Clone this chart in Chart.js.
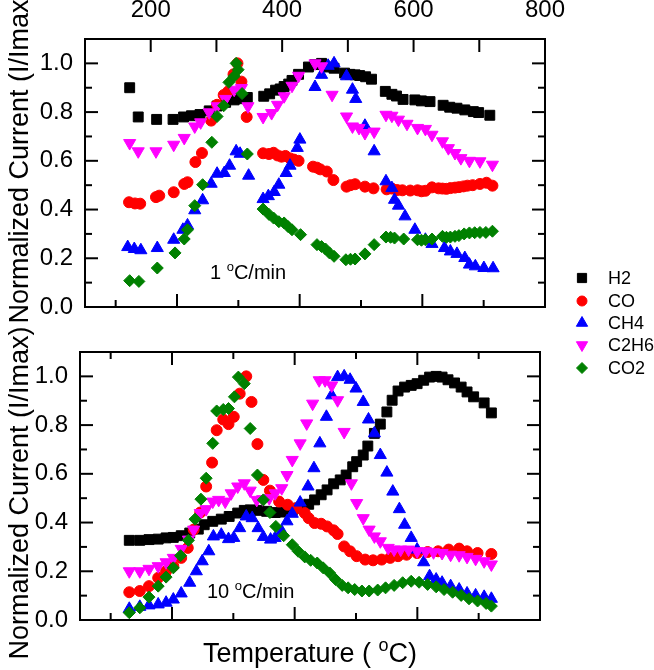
<!DOCTYPE html>
<html>
<head>
<meta charset="utf-8">
<script src="https://cdn.jsdelivr.net/npm/chart.js@4.4.1/dist/chart.umd.min.js"></script>
<style>
  html, body { margin: 0; padding: 0; background: #fff; }
  #wrap { position: relative; width: 654px; height: 670px; }
  #wrap canvas { position: absolute; left: 0; top: 0; }
</style>
</head>
<body>
<div id="wrap">
  <canvas id="chartSlow" width="654" height="670"></canvas>
  <canvas id="chartFast" width="654" height="670"></canvas>
</div>
<script>
// series names (legend order)
const seriesNames = ['H2', 'CO', 'CH4', 'C2H6', 'CO2'];

// tick labels
const tempLabels = [200, 400, 600, 800];
const currentLabels = [0, 0.2, 0.4, 0.6, 0.8, 1.0];

// 1 oC/min panel: [temperature, normalized current]
const h2Slow = [[168,0.90],[181,0.78],[209,0.77],[234,0.77],[250,0.78],[262,0.785],[275,0.79],[289,0.805],[301,0.825],[314,0.84],[327,0.85],[336,0.855],[347,0.86],[372,0.865],[381,0.875],[390,0.89],[397,0.895],[403,0.905],[410,0.915],[415,0.93],[425,0.955],[440,0.985],[450,0.995],[460,1.0],[470,0.985],[479,0.98],[495,0.96],[503,0.955],[511,0.953],[518,0.95],[527,0.945],[536,0.935],[557,0.885],[567,0.873],[574,0.866],[584,0.852],[602,0.85],[612,0.846],[625,0.843],[645,0.828],[655,0.82],[666,0.816],[678,0.809],[691,0.802],[699,0.798],[716,0.787]];
const coSlow = [[167,0.43],[176,0.425],[184,0.424],[208,0.451],[213,0.457],[235,0.471],[251,0.505],[256,0.512],[268,0.595],[278,0.632],[292,0.765],[301,0.83],[311,0.87],[318,0.885],[326,0.955],[332,1.0],[338,0.925],[346,0.78],[371,0.631],[380,0.628],[387,0.633],[393,0.622],[399,0.617],[405,0.62],[412,0.61],[418,0.605],[425,0.6],[447,0.576],[453,0.572],[458,0.565],[468,0.556],[478,0.521],[498,0.494],[504,0.5],[511,0.504],[526,0.494],[539,0.487],[559,0.483],[567,0.486],[575,0.48],[583,0.479],[595,0.478],[606,0.479],[612,0.475],[618,0.477],[628,0.491],[638,0.487],[644,0.486],[650,0.485],[656,0.488],[663,0.49],[669,0.492],[676,0.495],[682,0.498],[690,0.5],[701,0.505],[711,0.51],[720,0.498]];
const ch4Slow = [[165,0.246],[175,0.238],[185,0.233],[210,0.242],[235,0.276],[249,0.317],[256,0.335],[267,0.397],[279,0.438],[292,0.506],[301,0.547],[312,0.55],[320,0.58],[330,0.639],[336,0.629],[349,0.539],[371,0.443],[379,0.455],[388,0.472],[395,0.502],[406,0.55],[412,0.58],[423,0.653],[427,0.687],[450,0.903],[460,0.953],[470,0.99],[479,1.0],[498,0.947],[507,0.892],[512,0.854],[526,0.744],[540,0.639],[558,0.516],[567,0.488],[571,0.44],[577,0.416],[587,0.372],[602,0.317],[618,0.276],[628,0.259],[647,0.242],[656,0.228],[666,0.218],[678,0.201],[685,0.174],[694,0.167],[707,0.16],[721,0.159]];
const c2h6Slow = [[168,0.673],[181,0.639],[208,0.639],[235,0.666],[251,0.694],[267,0.741],[276,0.758],[289,0.799],[301,0.824],[314,0.854],[327,0.892],[338,0.899],[348,0.824],[371,0.78],[384,0.796],[393,0.83],[403,0.865],[415,0.908],[425,0.949],[450,1.0],[460,0.988],[476,0.871],[498,0.782],[507,0.741],[517,0.735],[526,0.714],[540,0.72],[558,0.789],[567,0.785],[577,0.769],[590,0.752],[606,0.735],[618,0.731],[628,0.707],[644,0.68],[653,0.652],[663,0.632],[672,0.611],[685,0.6],[701,0.598],[720,0.584]];
const co2Slow = [[168,0.108],[182,0.105],[210,0.16],[237,0.222],[251,0.279],[256,0.317],[267,0.416],[279,0.502],[293,0.676],[301,0.782],[311,0.826],[319,0.922],[327,0.947],[330,1.0],[333,0.974],[339,0.876],[347,0.628],[371,0.402],[380,0.38],[387,0.365],[395,0.35],[403,0.345],[409,0.33],[415,0.317],[428,0.297],[453,0.256],[460,0.248],[466,0.238],[472,0.222],[479,0.208],[497,0.194],[504,0.196],[511,0.197],[526,0.218],[540,0.256],[558,0.287],[565,0.286],[571,0.283],[585,0.279],[606,0.276],[612,0.274],[618,0.276],[628,0.279],[644,0.29],[650,0.286],[656,0.287],[663,0.29],[669,0.293],[677,0.3],[685,0.304],[693,0.305],[701,0.306],[710,0.306],[720,0.311]];

// 10 oC/min panel
const h2Fast = [[175,0.327],[191,0.327],[205,0.33],[219,0.332],[231,0.337],[242,0.339],[254,0.346],[267,0.357],[280,0.373],[289,0.391],[302,0.405],[315,0.414],[327,0.425],[340,0.439],[350,0.45],[359,0.452],[372,0.45],[384,0.446],[397,0.441],[410,0.443],[423,0.452],[432,0.459],[439,0.466],[448,0.475],[457,0.493],[467,0.514],[476,0.534],[486,0.559],[496,0.575],[505,0.595],[515,0.629],[521,0.65],[531,0.677],[538,0.714],[548,0.766],[557,0.804],[567,0.854],[575,0.902],[584,0.94],[594,0.956],[604,0.963],[613,0.97],[623,0.984],[632,0.997],[642,1.0],[651,0.997],[660,0.986],[670,0.973],[680,0.956],[689,0.936],[699,0.916],[715,0.891],[726,0.85]];
const coFast = [[175,0.114],[191,0.119],[205,0.139],[219,0.173],[231,0.2],[242,0.221],[254,0.255],[264,0.296],[273,0.371],[283,0.441],[292,0.548],[301,0.646],[308,0.779],[318,0.823],[326,0.804],[334,0.834],[343,0.929],[353,1.0],[361,0.895],[370,0.722],[379,0.575],[389,0.531],[403,0.486],[416,0.473],[429,0.459],[442,0.439],[448,0.418],[457,0.398],[467,0.395],[476,0.384],[486,0.368],[492,0.353],[502,0.302],[511,0.282],[521,0.262],[534,0.248],[546,0.245],[559,0.248],[572,0.255],[584,0.262],[597,0.268],[613,0.275],[629,0.279],[645,0.282],[661,0.289],[677,0.293],[689,0.282],[705,0.275],[726,0.271]];
const ch4Fast = [[175,0.046],[191,0.054],[205,0.06],[219,0.064],[231,0.071],[242,0.084],[254,0.109],[267,0.153],[277,0.2],[286,0.241],[296,0.282],[303,0.343],[315,0.35],[326,0.332],[334,0.337],[343,0.377],[353,0.425],[362,0.418],[371,0.377],[379,0.341],[390,0.33],[397,0.337],[407,0.364],[415,0.405],[423,0.436],[435,0.482],[447,0.548],[456,0.623],[465,0.725],[475,0.834],[483,0.922],[492,0.997],[502,1.0],[511,0.986],[520,0.95],[531,0.895],[539,0.823],[548,0.766],[557,0.677],[567,0.605],[576,0.527],[586,0.455],[594,0.391],[604,0.337],[613,0.289],[623,0.237],[632,0.18],[642,0.166],[651,0.153],[664,0.139],[677,0.125],[689,0.109],[702,0.101],[715,0.095],[726,0.087]];
const c2h6Fast = [[175,0.2],[191,0.2],[205,0.21],[219,0.221],[231,0.237],[242,0.255],[254,0.292],[265,0.33],[273,0.371],[283,0.439],[292,0.455],[302,0.486],[311,0.493],[321,0.486],[330,0.52],[340,0.548],[350,0.561],[359,0.531],[369,0.493],[378,0.496],[388,0.5],[397,0.52],[407,0.541],[415,0.595],[423,0.657],[435,0.725],[445,0.807],[454,0.888],[464,0.984],[473,0.984],[483,0.963],[492,0.902],[502,0.772],[513,0.561],[521,0.48],[531,0.418],[540,0.371],[548,0.343],[557,0.323],[569,0.296],[578,0.289],[588,0.289],[600,0.289],[613,0.282],[626,0.282],[638,0.278],[651,0.275],[664,0.268],[677,0.266],[689,0.259],[702,0.251],[715,0.241],[726,0.228]];
const co2Fast = [[175,0.03],[191,0.05],[205,0.094],[219,0.139],[231,0.176],[242,0.214],[253,0.264],[265,0.327],[275,0.414],[284,0.496],[292,0.582],[302,0.725],[308,0.858],[318,0.864],[326,0.868],[335,0.916],[341,0.997],[350,0.97],[359,0.786],[370,0.595],[379,0.493],[389,0.441],[398,0.384],[410,0.346],[423,0.309],[432,0.282],[442,0.259],[451,0.245],[461,0.234],[470,0.214],[480,0.193],[489,0.166],[499,0.142],[508,0.132],[518,0.125],[529,0.119],[540,0.119],[553,0.123],[565,0.132],[578,0.142],[591,0.153],[604,0.159],[616,0.155],[629,0.146],[642,0.136],[654,0.125],[667,0.114],[680,0.101],[692,0.087],[705,0.078],[718,0.068],[726,0.057]];

// marker look for each series
const markerStyle = [
  { color: '#000000', shape: 'rect',     rot: 0,   r: 7 },
  { color: '#ff0000', shape: 'circle',   rot: 0,   r: 5.5 },
  { color: '#0000ff', shape: 'triangle', rot: 0,   r: 7 },
  { color: '#ff00ff', shape: 'triangle', rot: 180, r: 7 },
  { color: '#008000', shape: 'rectRot',  rot: 0,   r: 6 }
];

const FONT = '"Liberation Sans", Arial, Helvetica, sans-serif';
Chart.defaults.font.family = FONT;
Chart.defaults.color = '#000';

function makeDatasets(list) {
  return list.map((pts, i) => ({
    label: seriesNames[i],
    data: pts.map(p => ({ x: p[0], y: p[1] })),
    pointStyle: markerStyle[i].shape,
    pointRotation: markerStyle[i].rot,
    pointRadius: markerStyle[i].r,
    backgroundColor: markerStyle[i].color,
    borderColor: markerStyle[i].color,
    borderWidth: 1,
    showLine: false,
    order: 5 - i,   // later series drawn on top
    xAxisID: 'x',
    yAxisID: 'y'
  }));
}

// inward tick marks, like the Origin frame
const yMinor = [0.1, 0.3, 0.5, 0.7, 0.9];
const yMajor = [0.2, 0.4, 0.6, 0.8, 1.0];
function tickPlugin(marks) {
  return {
    id: 'innerTicks',
    afterDatasetsDraw(chart) {
      const ctx = chart.ctx, a = chart.chartArea;
      ctx.save();
      ctx.strokeStyle = '#000';
      ctx.lineWidth = 2;
      marks.forEach(m => {
        const s = chart.scales[m.scale];
        [[m.major, 13], [m.minor, 7]].forEach(([vals, len]) => {
          vals.forEach(v => {
            ctx.beginPath();
            if (s.isHorizontal()) {
              const px = s.getPixelForValue(v);
              if (s.position === 'top') { ctx.moveTo(px, a.top); ctx.lineTo(px, a.top + len); }
              else { ctx.moveTo(px, a.bottom); ctx.lineTo(px, a.bottom - len); }
            } else {
              const py = s.getPixelForValue(v);
              if (s.position === 'left') { ctx.moveTo(a.left, py); ctx.lineTo(a.left + len, py); }
              else { ctx.moveTo(a.right, py); ctx.lineTo(a.right - len, py); }
            }
            ctx.stroke();
          });
        });
      });
      ctx.restore();
    }
  };
}

// text with a raised small "o" for the degree sign
function drawSup(ctx, parts, x, y, size, align) {
  const small = Math.round(size * 0.65);
  let w = 0;
  parts.forEach(p => {
    ctx.font = (p.sup ? small : size) + 'px ' + FONT;
    w += ctx.measureText(p.t).width;
  });
  let cx = align === 'center' ? x - w / 2 : x;
  ctx.textAlign = 'left';
  ctx.textBaseline = 'alphabetic';
  parts.forEach(p => {
    ctx.font = (p.sup ? small : size) + 'px ' + FONT;
    ctx.fillText(p.t, cx, p.sup ? y - size * 0.42 : y);
    cx += ctx.measureText(p.t).width;
  });
}

function textPlugin(cfg) {
  return {
    id: 'panelText',
    afterDraw(chart) {
      const ctx = chart.ctx;
      ctx.save();
      ctx.fillStyle = '#000';
      // y title
      ctx.save();
      ctx.translate(cfg.yTitleX, cfg.yTitleY);
      ctx.rotate(-Math.PI / 2);
      ctx.font = '27px ' + FONT;
      ctx.textAlign = 'center';
      ctx.textBaseline = 'middle';
      ctx.fillText('Normalized Current (I/Imax)', 0, 0);
      ctx.restore();
      // rate note
      drawSup(ctx, [{ t: cfg.rate + ' ' }, { t: 'o', sup: true }, { t: 'C/min' }], cfg.rateX, cfg.rateY, 20, 'left');
      if (cfg.xTitle) {
        drawSup(ctx, [{ t: 'Temperature ( ' }, { t: 'o', sup: true }, { t: 'C)' }], 310, 662, 27, 'center');
      }
      if (cfg.legend) {
        const rows = [278, 301, 323, 345, 368];
        chart.data.datasets.forEach((ds, i) => {
          ctx.fillStyle = ds.backgroundColor;
          ctx.strokeStyle = ds.borderColor;
          ctx.lineWidth = 1;
          if (Chart.helpers && Chart.helpers.drawPoint) {
            Chart.helpers.drawPoint(ctx, { pointStyle: ds.pointStyle, rotation: ds.pointRotation, radius: ds.pointRadius - 0.5, borderWidth: 1 }, 582, rows[i]);
          }
          ctx.fillStyle = '#000';
          ctx.font = '18px ' + FONT;
          ctx.textAlign = 'left';
          ctx.textBaseline = 'middle';
          ctx.fillText(ds.label, 608, rows[i] + 1);
        });
      }
      ctx.restore();
    }
  };
}

const frameBorder = { color: '#000', width: 2 };
const noGrid = { drawOnChartArea: false, drawTicks: false };

function yAxes(leftWidth) {
  return {
    y: {
      position: 'left', min: 0, max: 1.1,
      afterBuildTicks: s => { s.ticks = currentLabels.map(v => ({ value: v })); },
      ticks: { padding: 12, font: { size: 24 }, color: '#000', callback: v => Number(v).toFixed(1) },
      grid: noGrid, border: frameBorder,
      afterFit: s => { s.width = leftWidth; }
    },
    y2: {
      position: 'right', min: 0, max: 1.1,
      ticks: { display: false },
      grid: noGrid, border: frameBorder,
      afterFit: s => { s.width = 0; }
    }
  };
}

const tickSetB = { major: [200, 400, 600], minor: [100, 300, 500, 700] };

// 1 oC/min panel
new Chart(document.getElementById('chartSlow'), {
  type: 'scatter',
  data: { datasets: makeDatasets([h2Slow, coSlow, ch4Slow, c2h6Slow, co2Slow]) },
  options: {
    responsive: false, animation: false, devicePixelRatio: 1,
    layout: { padding: { left: 0, top: 0, right: 109, bottom: 363 } },
    plugins: { legend: { display: false }, tooltip: { enabled: false } },
    scales: Object.assign({
      x: {
        type: 'linear', position: 'top', min: 100, max: 800,
        afterBuildTicks: s => { s.ticks = tempLabels.map(v => ({ value: v })); },
        ticks: { autoSkip: false, maxRotation: 0, padding: 14, font: { size: 24 }, color: '#000' },
        grid: noGrid, border: frameBorder,
        afterFit: s => { s.height = 39; }
      },
      x2: {
        type: 'linear', position: 'bottom', min: 50, max: 800,
        ticks: { display: false },
        grid: noGrid, border: frameBorder,
        afterFit: s => { s.height = 0; }
      }
    }, yAxes(85))
  },
  plugins: [
    tickPlugin([
      { scale: 'x', major: [200, 300, 400, 500, 600, 700], minor: [] },
      Object.assign({ scale: 'x2' }, tickSetB),
      { scale: 'y', major: yMajor, minor: yMinor },
      { scale: 'y2', major: yMajor, minor: yMinor }
    ]),
    textPlugin({ yTitleX: 21, yTitleY: 157, rate: '1', rateX: 210, rateY: 279 })
  ]
});

// 10 oC/min panel
new Chart(document.getElementById('chartFast'), {
  type: 'scatter',
  data: { datasets: makeDatasets([h2Fast, coFast, ch4Fast, c2h6Fast, co2Fast]) },
  options: {
    responsive: false, animation: false, devicePixelRatio: 1,
    layout: { padding: { left: 0, top: 352, right: 114, bottom: 50 } },
    plugins: { legend: { display: false }, tooltip: { enabled: false } },
    scales: Object.assign({
      x: { type: 'linear', display: false, min: 100, max: 800 },
      xt: {
        type: 'linear', position: 'top', min: 50, max: 800,
        ticks: { display: false },
        grid: noGrid, border: frameBorder,
        afterFit: s => { s.height = 0; }
      },
      xb: {
        type: 'linear', position: 'bottom', min: 50, max: 800,
        ticks: { display: false },
        grid: noGrid, border: frameBorder,
        afterFit: s => { s.height = 0; }
      }
    }, yAxes(80))
  },
  plugins: [
    tickPlugin([
      Object.assign({ scale: 'xt' }, tickSetB),
      Object.assign({ scale: 'xb' }, tickSetB),
      { scale: 'y', major: yMajor, minor: yMinor },
      { scale: 'y2', major: yMajor, minor: yMinor }
    ]),
    textPlugin({ yTitleX: 21, yTitleY: 493, rate: '10', rateX: 207, rateY: 598, xTitle: true, legend: true })
  ]
});
</script>
</body>
</html>
